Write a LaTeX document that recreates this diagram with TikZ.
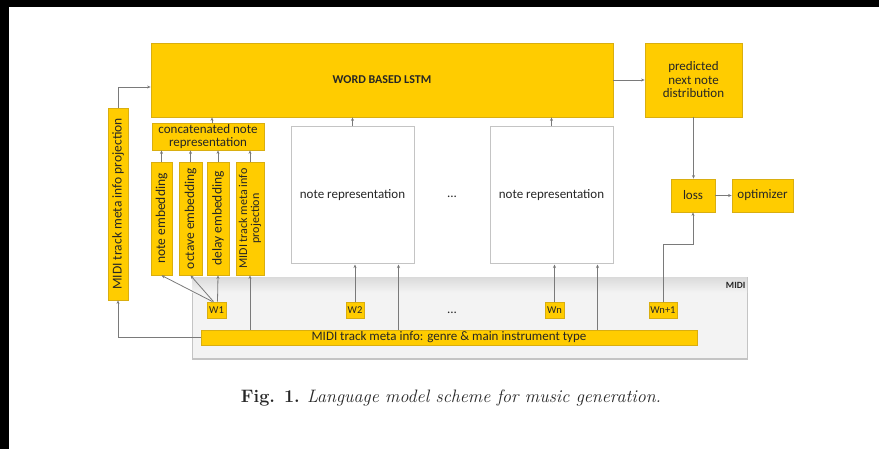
\documentclass[tikz,border=0pt]{standalone}
\usepackage{fontspec}
\newfontfamily\diagfont{Carlito}
\usetikzlibrary{arrows.meta,calc}
\definecolor{gold}{HTML}{FFCC00}
\definecolor{goldline}{HTML}{D9AE10}
\definecolor{wire}{HTML}{7A7A7A}
\definecolor{framegray}{HTML}{C4C4C4}
\definecolor{areafill}{HTML}{F3F3F3}
\definecolor{areahead}{HTML}{DCDCDC}
\definecolor{txt}{HTML}{262626}
\begin{document}
\begin{tikzpicture}[x=1pt,y=-1pt,
  lbl/.style={font=\diagfont\fontsize{13}{13.5}\selectfont, text=txt, align=center, inner sep=0pt},
  vlbl/.style={lbl, rotate=90, font=\diagfont\fontsize{13.5}{13.5}\selectfont},
  yb/.style={draw=goldline, fill=gold, line width=0.8pt, inner sep=0pt, lbl},
  wb/.style={draw=framegray, fill=white, line width=1pt, inner sep=0pt, lbl},
  wtok/.style={yb, font=\diagfont\fontsize{10.5}{11}\selectfont},
  arr/.style={draw=wire, line width=0.8pt, -{Stealth[length=3.5pt,width=3pt]}}]
\useasboundingbox (0,0) rectangle (879,449);
\fill[white] (0,0) rectangle (879,449);
% dark edges of the scanned page
\fill[black] (0,0) rectangle (879,7);
\fill[black] (0,0) rectangle (9,449);

% MIDI input area
\node[draw=framegray, fill=areafill, line width=1pt, minimum width=555pt, minimum height=81pt, inner sep=0pt] (area) at (469.5,318.5) {};
\shade[top color=areahead, bottom color=areafill] ([shift={(0.5,0.5)}]area.north west) rectangle ([shift={(-0.5,15)}]area.north east);
\node[font=\diagfont\bfseries\fontsize{9.5}{10}\selectfont, text=txt, anchor=north east, inner sep=0pt] (midilbl) at ([shift={(-2,5)}]area.north east) {MIDI};

% main blocks
\node[yb, minimum width=462pt, minimum height=74pt, font=\diagfont\bfseries\fontsize{12}{13}\selectfont] (lstm) at (382,80) {WORD BASED LSTM};
\node[yb, minimum width=97pt, minimum height=74pt] (pred) at (693.5,80) {predicted\\next note\\distribution};
\node[yb, minimum width=44pt, minimum height=33pt] (loss) at (693,195.5) {loss};
\node[yb, minimum width=61pt, minimum height=33pt] (opt) at (762.5,195.5) {optimizer};

\node[wb, minimum width=123pt, minimum height=137pt] (nr1) at (352.5,195.5) {note representation};
\node[wb, minimum width=123pt, minimum height=137pt] (nr2) at (551.5,195.5) {note representation};
\node[lbl] (dots1) at (452,197) {...};

\node[yb, minimum width=112pt, minimum height=27pt] (concat) at (208,136.5) {concatenated note\\representation};

% embedding columns
\node[yb, minimum width=21pt, minimum height=113pt] (emb1) at (161.5,218.5) {};
\node[yb, minimum width=23pt, minimum height=113pt] (emb2) at (190.5,218.5) {};
\node[yb, minimum width=22pt, minimum height=113pt] (emb3) at (218,218.5) {};
\node[yb, minimum width=28pt, minimum height=113pt] (emb4) at (250,218.5) {};
\node[vlbl] at (emb1) {note embedding};
\node[vlbl] at (emb2) {octave embedding};
\node[vlbl] at (emb3) {delay embedding};
\node[vlbl, font=\diagfont\fontsize{12}{12}\selectfont] at (emb4) {MIDI track meta info\\projection};

\node[yb, minimum width=20pt, minimum height=192pt] (mp) at (118,204) {};
\node[vlbl] at (mp) {MIDI track meta info projection};

% input tokens
\node[wtok, minimum width=19pt, minimum height=16pt] (w1) at (216.5,310) {W1};
\node[wtok, minimum width=18pt, minimum height=16pt] (w2) at (355,310) {W2};
\node[lbl] (dots2) at (452,313) {...};
\node[wtok, minimum width=19pt, minimum height=16pt] (wn) at (554.5,310) {Wn};
\node[wtok, minimum width=28pt, minimum height=16pt] (wn1) at (663,310) {Wn+1};

\node[yb, minimum width=496pt, minimum height=15pt] (bar) at (449,337.5) {MIDI track meta info: genre \& main instrument type};

% connectors
\draw[arr] (lstm) -- (pred);
\draw[arr] (pred.south) -- (pred.south |- loss.north);
\draw[arr] (loss) -- (opt);
\draw[arr] (wn1.north) |- ($(loss.south)+(0,32)$) -- (loss.south);

\draw[arr] ([xshift=4pt]concat.north) -- ([xshift=4pt]concat.north |- lstm.south);
\draw[arr] (nr1.north) -- (nr1.north |- lstm.south);
\draw[arr] (nr2.north) -- (nr2.north |- lstm.south);

\foreach \e in {emb1,emb2,emb3,emb4}
  \draw[arr] (\e.north) -- (\e.north |- concat.south);

\draw[arr] (mp.north) |- ($(lstm.west)+(0,7)$);
\draw[arr] (bar.west) -| (mp.south);
\draw[arr] (bar.north -| emb4.south) -- (emb4.south);
\draw[arr] (bar.north -| {$(nr1.south east)+(-16,0)$}) -- ($(nr1.south east)+(-16,0)$);
\draw[arr] (bar.north -| {$(nr2.south east)+(-16,0)$}) -- ($(nr2.south east)+(-16,0)$);

\draw[arr] (w2.north) -- (w2.north |- nr1.south);
\draw[arr] (wn.north) -- (wn.north |- nr2.south);

\draw[arr] ([xshift=-4pt]w1.north) -- (emb1.south);
\draw[arr] ([xshift=-3pt]w1.north) -- (emb2.south);
\draw[arr] ([xshift=1pt]w1.north) -- (emb3.south);

% caption
\node[font=\fontsize{18}{20}\selectfont, text=txt, inner sep=0pt] (cap) at (451,398)
  {\textbf{Fig. 1.} \textit{Language model scheme for music generation.}};
\end{tikzpicture}
\end{document}
